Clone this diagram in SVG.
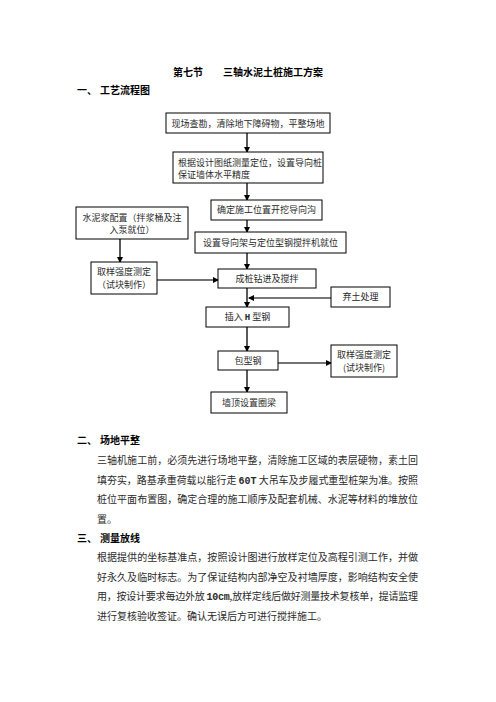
<svg xmlns="http://www.w3.org/2000/svg" width="496" height="702" viewBox="0 0 496 702">
<style>
.bx{fill:#fff;stroke:#000;stroke-width:1}
.t{font-family:"Noto Sans CJK SC","Noto Sans CJK JP",sans-serif;font-size:9px;fill:#2a2a2a}
.h{font-family:"Noto Sans CJK SC",sans-serif;font-size:10px;font-weight:bold;fill:#000}
.p{font-family:"Noto Sans CJK SC",sans-serif;font-size:10px;fill:#2a2a2a}
.m{font-family:"Liberation Mono",monospace;font-weight:bold}
.c{stroke:#000;stroke-width:1.3;fill:none}
.g{stroke:#444;stroke-width:1.5;fill:none}
.g2{stroke:#777;stroke-width:2;fill:none}
</style>
<defs>
<marker id="a" markerWidth="6" markerHeight="6" refX="5" refY="3" orient="auto" markerUnits="userSpaceOnUse"><path d="M0,0 L6,3 L0,6 z" fill="#000"/></marker>
</defs>
<rect width="496" height="702" fill="#fff"/>
<text class="h" x="173" y="76">第七节</text>
<text class="h" x="223" y="76">三轴水泥土桩施工方案</text>
<text class="h" x="77" y="94">一、</text>
<text class="h" x="100" y="94">工艺流程图</text>

<g id="connectors">
<line class="c" x1="247" y1="133" x2="247" y2="152" marker-end="url(#a)"/>
<line class="c" x1="247" y1="183" x2="247" y2="200" marker-end="url(#a)"/>
<line class="c" x1="247" y1="220" x2="247" y2="232" marker-end="url(#a)"/>
<line class="c" x1="247" y1="253" x2="247" y2="269" marker-end="url(#a)"/>
<line class="c" x1="120" y1="239" x2="120" y2="262" marker-end="url(#a)"/>
<line class="g" x1="157" y1="280" x2="218" y2="280" marker-end="url(#a)"/>
<line class="c" x1="247" y1="288" x2="247" y2="307" marker-end="url(#a)"/>
<line class="g2" x1="331" y1="298" x2="249" y2="298" marker-end="url(#a)"/>
<line class="c" x1="247" y1="327" x2="247" y2="351" marker-end="url(#a)"/>
<line class="g" x1="278" y1="363" x2="331" y2="363" marker-end="url(#a)"/>
<line class="c" x1="247" y1="370" x2="247" y2="392" marker-end="url(#a)"/>
</g>

<g id="n1"><rect class="bx" x="166" y="113" width="164" height="20"/><text class="t" x="248" y="126.5" text-anchor="middle">现场查勘，清除地下障碍物，平整场地</text></g>
<g id="n2"><rect class="bx" x="173" y="152" width="150" height="31"/><text class="t" x="178" y="165.5">根据设计图纸测量定位，设置导向桩</text><text class="t" x="178" y="178">保证墙体水平精度</text></g>
<g id="n3"><rect class="bx" x="211" y="200" width="111" height="20"/><text class="t" x="266.5" y="213" text-anchor="middle">确定施工位置开挖导向沟</text></g>
<g id="n4"><rect class="bx" x="76" y="207" width="112" height="32"/><text class="t" x="132" y="221" text-anchor="middle">水泥浆配置（拌浆桶及注</text><text class="t" x="132" y="233" text-anchor="middle">入泵就位）</text></g>
<g id="n5"><rect class="bx" x="195" y="232" width="151" height="21"/><text class="t" x="270.5" y="245.5" text-anchor="middle">设置导向架与定位型钢搅拌机就位</text></g>
<g id="n6"><rect class="bx" x="91" y="262" width="66" height="32"/><text class="t" x="124" y="275" text-anchor="middle">取样强度测定</text><text class="t" x="124" y="288" text-anchor="middle">（试块制作）</text></g>
<g id="n7"><rect class="bx" x="218" y="269" width="98" height="19"/><text class="t" x="267" y="281.5" text-anchor="middle">成桩钻进及搅拌</text></g>
<g id="n8"><rect class="bx" x="331" y="287" width="59" height="20"/><text class="t" x="360.5" y="300" text-anchor="middle">弃土处理</text></g>
<g id="n9"><rect class="bx" x="206" y="307" width="83" height="20"/><text class="t" x="247.5" y="320" text-anchor="middle">插入 <tspan class="m">H</tspan> 型钢</text></g>
<g id="n10"><rect class="bx" x="218" y="351" width="60" height="19"/><text class="t" x="248" y="363.5" text-anchor="middle">包型钢</text></g>
<g id="n11"><rect class="bx" x="331" y="345" width="66" height="32"/><text class="t" x="364" y="358" text-anchor="middle">取样强度测定</text><text class="t" x="364" y="371" text-anchor="middle">(试块制作)</text></g>
<g id="n12"><rect class="bx" x="211" y="392" width="76" height="21"/><text class="t" x="249" y="405.5" text-anchor="middle">墙顶设置圈梁</text></g>

<text class="h" x="77" y="444">二、</text>
<text class="h" x="100" y="444">场地平整</text>
<text class="p" x="97" y="464" textLength="321" lengthAdjust="spacing">三轴机施工前，必须先进行场地平整，清除施工区域的表层硬物，素土回</text>
<text class="p" x="97" y="484" textLength="321" lengthAdjust="spacing">填夯实，路基承重荷载以能行走 <tspan class="m">60T</tspan> 大吊车及步履式重型桩架为准。按照</text>
<text class="p" x="97" y="503" textLength="321" lengthAdjust="spacing">桩位平面布置图，确定合理的施工顺序及配套机械、水泥等材料的堆放位</text>
<text class="p" x="97" y="523">置。</text>

<text class="h" x="77" y="542">三、</text>
<text class="h" x="100" y="542">测量放线</text>
<text class="p" x="97" y="561" textLength="321" lengthAdjust="spacing">根据提供的坐标基准点，按照设计图进行放样定位及高程引测工作，并做</text>
<text class="p" x="97" y="581" textLength="321" lengthAdjust="spacing">好永久及临时标志。为了保证结构内部净空及衬墙厚度，影响结构安全使</text>
<text class="p" x="97" y="600" textLength="321" lengthAdjust="spacing">用，按设计要求每边外放 <tspan class="m">10cm</tspan>,放样定线后做好测量技术复核单，提请监理</text>
<text class="p" x="97" y="620">进行复核验收签证。确认无误后方可进行搅拌施工。</text>
</svg>
